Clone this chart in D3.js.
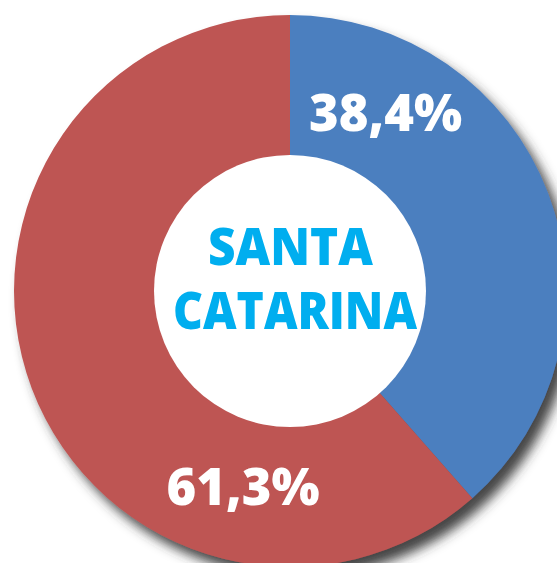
<!DOCTYPE html>
<html>
<head>
<meta charset="utf-8">
<script src="https://cdn.jsdelivr.net/npm/d3@7"></script>
<style>
  html, body { margin: 0; padding: 0; background: #ffffff; }
  svg { display: block; }
</style>
</head>
<body>
<svg id="chart" width="557" height="563"></svg>
<script>
const categories = ["Azul", "Vermelho"];
const values = [38.4, 61.3];
const valueLabels = ["38,4%", "61,3%"];
const colors = ["#4C7FBF", "#BE5553"];
const centerLines = ["SANTA", "CATARINA"];

const svg = d3.select("#chart");
const cx = 290, cy = 291, outerR = 276, innerR = 136;

const defs = svg.append("defs");
const f = defs.append("filter").attr("id", "shadow")
  .attr("x", "-20%").attr("y", "-20%").attr("width", "140%").attr("height", "140%");
f.append("feDropShadow").attr("dx", 8).attr("dy", 10).attr("stdDeviation", 6)
  .attr("flood-color", "#333333").attr("flood-opacity", 0.9);

const g = svg.append("g").attr("transform", `translate(${cx},${cy})`);

const pie = d3.pie().sort(null).value(d => d);
const arcs = pie(values);
const arc = d3.arc().innerRadius(0).outerRadius(outerR);

const ring = g.append("g").attr("filter", "url(#shadow)");
ring.selectAll("path.slice")
  .data(arcs)
  .join("path")
  .attr("class", "slice")
  .attr("d", arc)
  .attr("fill", (d, i) => colors[i]);

g.append("circle").attr("r", innerR).attr("fill", "#ffffff");

// value labels
const labelPos = [[95.5, -160], [-47, 214]];
const labelWidths = [153, 153];
g.selectAll("text.val")
  .data(arcs)
  .join("text")
  .attr("class", "val")
  .attr("x", (d, i) => labelPos[i][0])
  .attr("y", (d, i) => labelPos[i][1])
  .attr("text-anchor", "middle")
  .attr("font-family", "'Open Sans', sans-serif")
  .attr("font-weight", 800)
  .attr("font-size", 51)
  .attr("fill", "#ffffff")
  .attr("textLength", (d, i) => labelWidths[i])
  .attr("lengthAdjust", "spacingAndGlyphs")
  .text((d, i) => valueLabels[i]);

// center text
const centerPos = [[0.5, -26], [5, 38]];
const centerWidths = [165, 244];
g.selectAll("text.center")
  .data(centerLines)
  .join("text")
  .attr("class", "center")
  .attr("x", (d, i) => centerPos[i][0])
  .attr("y", (d, i) => centerPos[i][1])
  .attr("text-anchor", "middle")
  .attr("font-family", "'Open Sans', sans-serif")
  .attr("font-weight", 800)
  .attr("font-size", 52)
  .attr("fill", "#00AEEF")
  .attr("textLength", (d, i) => centerWidths[i])
  .attr("lengthAdjust", "spacingAndGlyphs")
  .text(d => d);
</script>
</body>
</html>
